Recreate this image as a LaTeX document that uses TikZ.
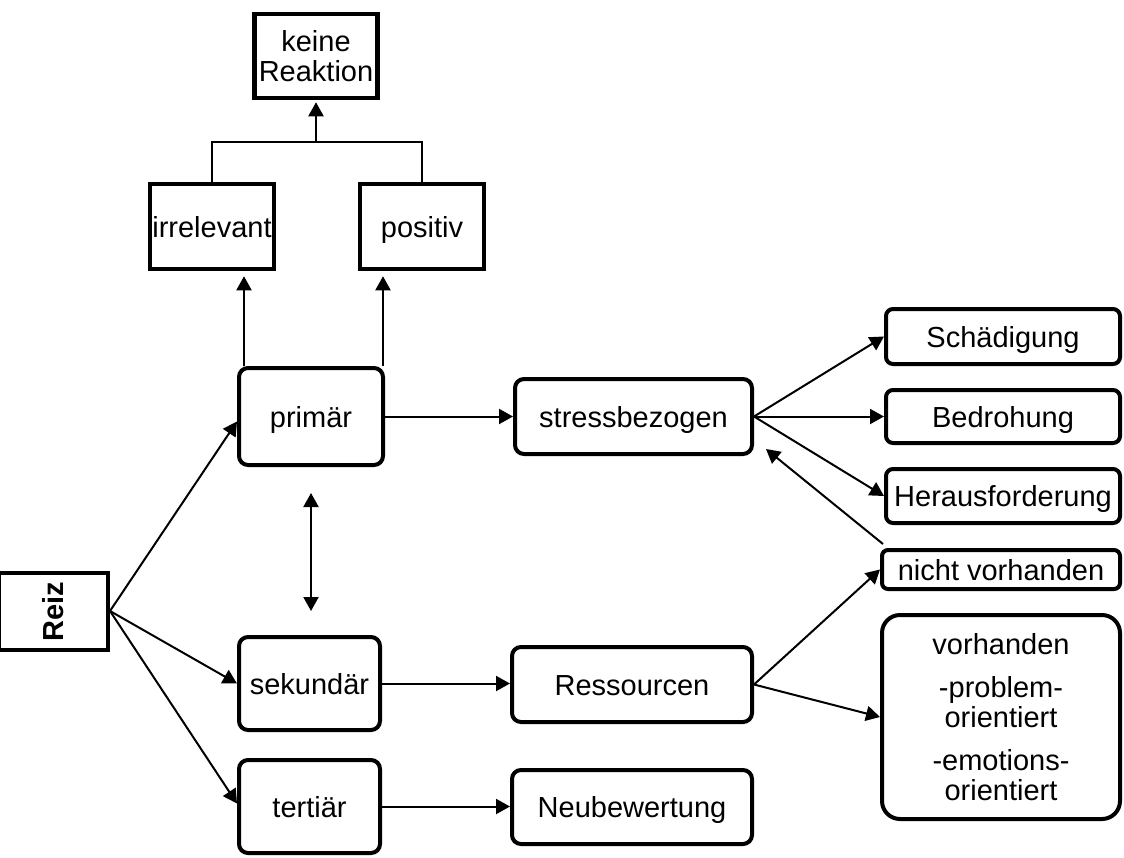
\documentclass[tikz,border=0pt]{standalone}
\usepackage{fontspec}
\setmainfont{Liberation Sans}
\usetikzlibrary{arrows.meta}
\tikzset{
  box/.style={draw, line width=4pt, inner sep=0pt, align=center, font=\fontsize{29}{30}\selectfont},
  one/.style={text height=27pt, text depth=6pt},
  sbox/.style={box, line width=4.5pt},
  rbox/.style={box, rounded corners=9pt},
  arr/.style={-{Triangle[length=14pt,width=15pt]}, line width=2pt},
  darr/.style={{Triangle[length=14pt,width=15pt]}-{Triangle[length=14pt,width=15pt]}, line width=2pt},
  con/.style={line width=2pt}
}
\begin{document}
\begin{tikzpicture}[x=1pt,y=-1pt]
\useasboundingbox (0,0) rectangle (1124,857);
% top boxes
\node[sbox, minimum width=123pt, minimum height=84pt] (keine) at (316,56) {keine\\Reaktion};
\node[sbox, one, minimum width=124pt, minimum height=85pt] (irr) at (212,226.5) {irrelevant};
\node[sbox, one, minimum width=124pt, minimum height=85pt] (pos) at (422,226.5) {positiv};
% left column
\node[box, minimum width=77pt, minimum height=109pt, font=\fontsize{29}{30}\selectfont\bfseries, rotate=90] (reiz) at (53.5,611.5) {Reiz};
\node[rbox, one, minimum width=144pt, minimum height=97pt] (prim) at (311,416.5) {primär};
\node[rbox, one, minimum width=141pt, minimum height=93pt] (sek) at (309.5,683.5) {sekundär};
\node[rbox, one, minimum width=141pt, minimum height=93pt] (tert) at (309.5,806.5) {tertiär};
% middle column
\node[rbox, one, minimum width=237pt, minimum height=75pt] (stress) at (633.5,416.5) {stressbezogen};
\node[rbox, one, minimum width=240pt, minimum height=75pt] (ress) at (632,684.5) {Ressourcen};
\node[rbox, one, minimum width=240pt, minimum height=74pt] (neu) at (632,807) {Neubewertung};
% right column
\node[rbox, one, rounded corners=7pt, minimum width=234pt, minimum height=55pt] (sch) at (1003,336.5) {Schädigung};
\node[rbox, one, rounded corners=7pt, minimum width=234pt, minimum height=53pt] (bed) at (1003,416.5) {Bedrohung};
\node[rbox, one, rounded corners=7pt, minimum width=234pt, minimum height=54pt] (her) at (1003,496) {Herausforderung};
\node[rbox, one, rounded corners=6pt, minimum width=238pt, minimum height=39pt] (nv) at (1001,569.5) {nicht vorhanden};
\node[rbox, rounded corners=18pt, minimum width=238pt, minimum height=204pt] (vorh) at (1001,717)
  {vorhanden\\[13pt]-problem-\\orientiert\\[13pt]-emotions-\\orientiert};
% connectors top
\coordinate (join) at (316,142);
\draw[con] (irr.north) |- (join) -| (pos.north);
\draw[arr, shorten >=2pt] (join) -- (keine.south);
\draw[arr, shorten >=5pt] ([xshift=7pt]prim.north west) -- ([xshift=7pt]prim.north west |- irr.south);
\draw[arr, shorten >=5pt] ([xshift=-2pt]prim.north east) -- ([xshift=-2pt]prim.north east |- pos.south);
% fan from Reiz
\coordinate (fan) at (110,611);
\draw[arr] (fan) -- ([yshift=-5pt]prim.west);
\draw[arr] (fan) -- (sek.west);
\draw[arr] (fan) -- ([yshift=3pt]tert.west);
% double arrow
\draw[darr, shorten <=26pt, shorten >=24pt] (prim.south) -- (prim.south |- sek.north);
% horizontal
\draw[arr] (prim.east) -- (stress.west);
\draw[arr] (sek.east) -- (sek.east -| ress.west);
\draw[arr] (tert.east) -- (tert.east -| neu.west);
% stress fan
\draw[arr] (stress.east) -- (sch.west);
\draw[arr] (stress.east) -- (bed.west);
\draw[arr] (stress.east) -- (her.west);
\draw[arr] ([xshift=3pt,yshift=4pt]nv.north west) -- ([xshift=12pt,yshift=7pt]stress.south east);
% Ressourcen fan
\draw[arr] (ress.east) -- (nv.west);
\draw[arr] (ress.east) -- (vorh.west);
\end{tikzpicture}
\end{document}
